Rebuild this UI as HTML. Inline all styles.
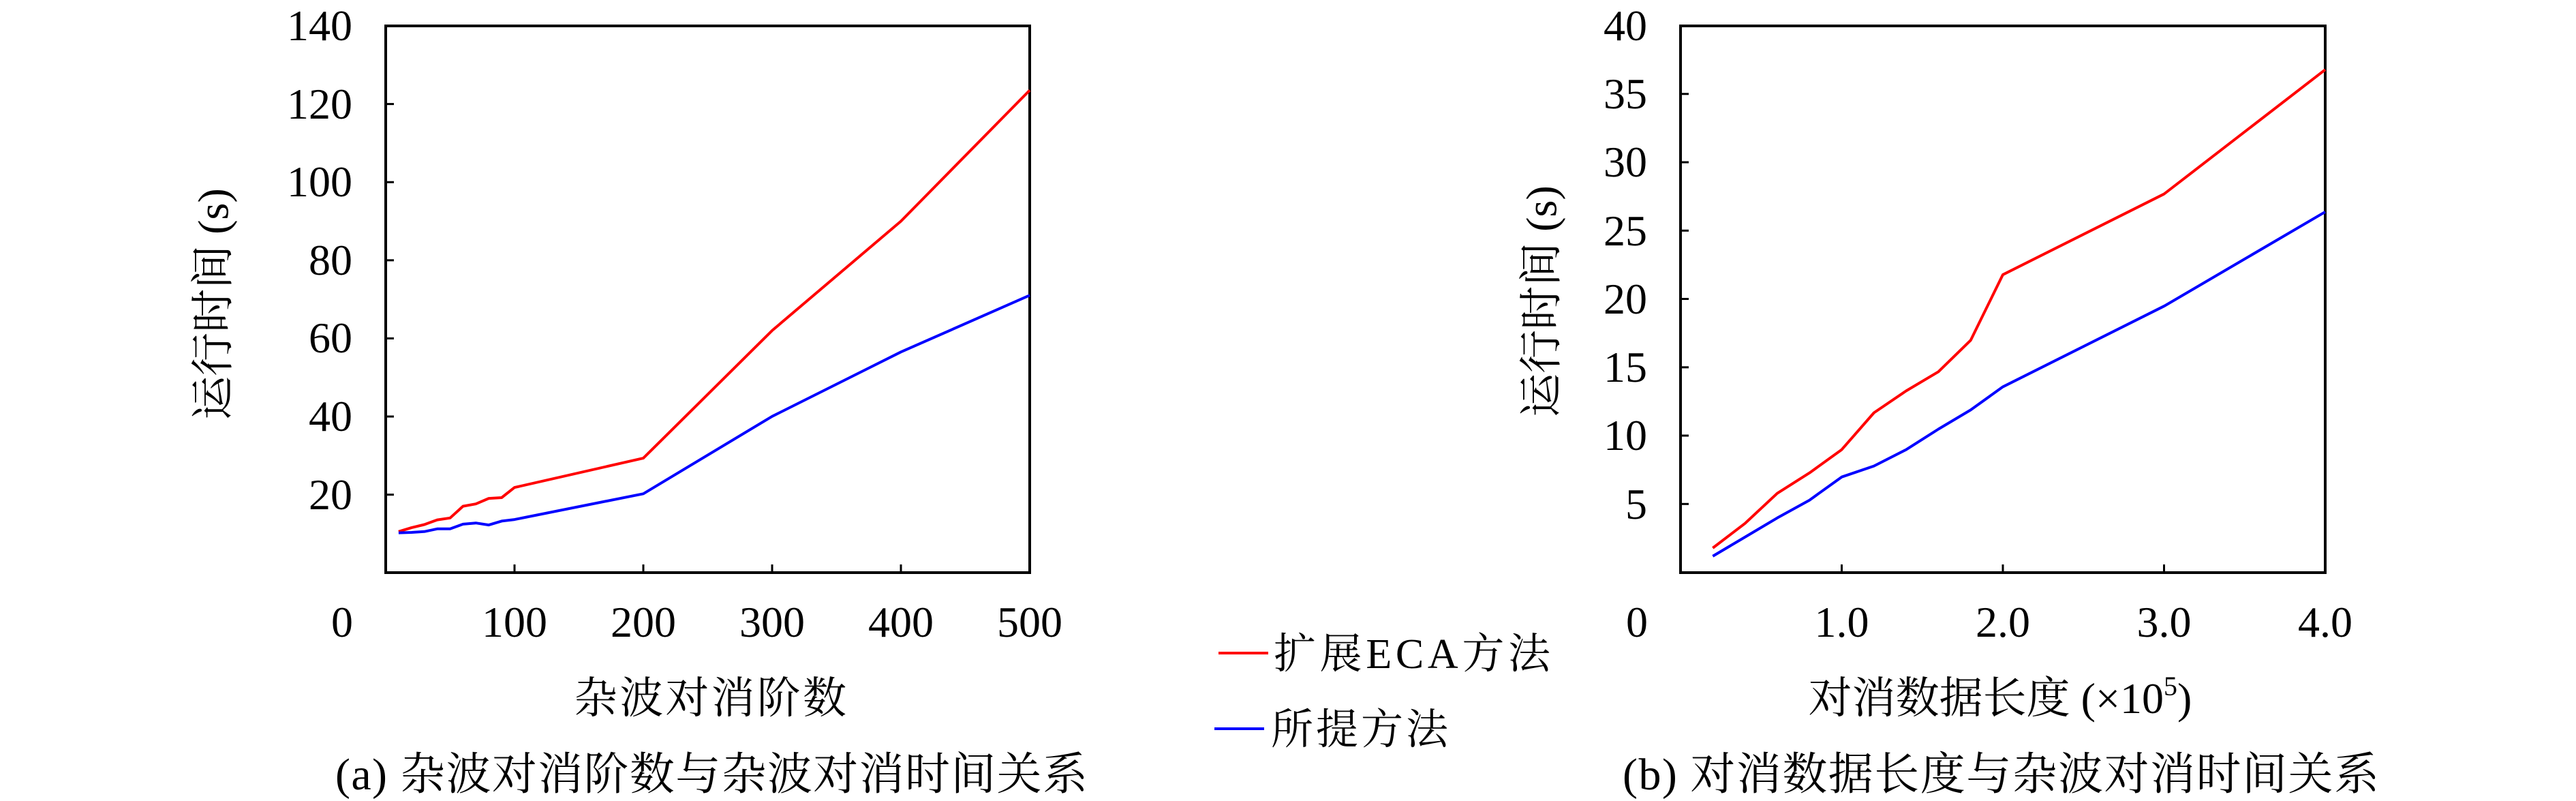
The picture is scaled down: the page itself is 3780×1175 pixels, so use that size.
<!DOCTYPE html>
<html><head><meta charset="utf-8"><style>html,body{margin:0;padding:0;background:#fff}svg{display:block}</style></head>
<body>
<svg width="3780" height="1175" viewBox="0 0 3780 1175" xmlns="http://www.w3.org/2000/svg" font-family="'Liberation Serif','Noto Serif CJK SC',serif">
<rect width="3780" height="1175" fill="#fff"/>
<!-- Plot A -->
<g>
<rect x="566" y="38" width="945" height="802" fill="none" stroke="#000" stroke-width="4"/>
<g stroke="#000" stroke-width="3">
<line x1="566" x2="578" y1="152.6" y2="152.6"/><line x1="566" x2="578" y1="267.2" y2="267.2"/><line x1="566" x2="578" y1="381.8" y2="381.8"/><line x1="566" x2="578" y1="496.4" y2="496.4"/><line x1="566" x2="578" y1="611" y2="611"/><line x1="566" x2="578" y1="725.6" y2="725.6"/>
<line x1="755" x2="755" y1="840" y2="828"/><line x1="944" x2="944" y1="840" y2="828"/><line x1="1133" x2="1133" y1="840" y2="828"/><line x1="1322" x2="1322" y1="840" y2="828"/>
</g>
<g font-size="64" text-anchor="end">
<text x="517" y="59">140</text><text x="517" y="174">120</text><text x="517" y="288">100</text><text x="517" y="403">80</text><text x="517" y="517">60</text><text x="517" y="632">40</text><text x="517" y="747">20</text>
</g>
<g font-size="64" text-anchor="middle">
<text x="502" y="934">0</text><text x="755" y="934">100</text><text x="944" y="934">200</text><text x="1133" y="934">300</text><text x="1322" y="934">400</text><text x="1511" y="934">500</text>
</g>
<polyline fill="none" stroke="#f00" stroke-width="4" stroke-linejoin="round" points="584.9,779.8 603.8,774.1 622.7,769.5 641.6,762.6 660.5,759.8 679.4,742.6 698.3,739.2 717.2,731.1 736.1,730 755,715.1 944,672.1 1133,484.9 1322,324.5 1511,132.4"/>
<polyline fill="none" stroke="#00f" stroke-width="4" stroke-linejoin="round" points="584.9,781.6 603.8,781 622.7,779.8 641.6,775.8 660.5,775.8 679.4,768.9 698.3,767.2 717.2,770.1 736.1,764.4 755,762.1 944,724.3 1133,610.8 1322,516.3 1511,433.2"/>
<text x="313" y="446" font-size="64" text-anchor="middle" dominant-baseline="central" transform="rotate(-90 313 446)">运行时间 (s)</text>
<text x="1042" y="1046" font-size="64" text-anchor="middle" textLength="400">杂波对消阶数</text>
<text x="1044" y="1158" font-size="66" text-anchor="middle" textLength="1104">(a) 杂波对消阶数与杂波对消时间关系</text>
</g>
<!-- Legend -->
<line x1="1788" x2="1861" y1="958" y2="958" stroke="#f00" stroke-width="4"/>
<text x="1869" y="980" font-size="62" textLength="406">扩展ECA方法</text>
<line x1="1782" x2="1855" y1="1069" y2="1069" stroke="#00f" stroke-width="4"/>
<text x="1865" y="1091" font-size="62" textLength="260">所提方法</text>
<!-- Plot B -->
<g>
<rect x="2466" y="38" width="946" height="802" fill="none" stroke="#000" stroke-width="4"/>
<g stroke="#000" stroke-width="3">
<line x1="2466" x2="2478" y1="137.8" y2="137.8"/><line x1="2466" x2="2478" y1="238" y2="238"/><line x1="2466" x2="2478" y1="338.3" y2="338.3"/><line x1="2466" x2="2478" y1="438.5" y2="438.5"/><line x1="2466" x2="2478" y1="538.8" y2="538.8"/><line x1="2466" x2="2478" y1="639" y2="639"/><line x1="2466" x2="2478" y1="739.3" y2="739.3"/>
<line x1="2702.5" x2="2702.5" y1="840" y2="828"/><line x1="2939" x2="2939" y1="840" y2="828"/><line x1="3175.5" x2="3175.5" y1="840" y2="828"/>
</g>
<g font-size="64" text-anchor="end">
<text x="2417" y="59">40</text><text x="2417" y="159">35</text><text x="2417" y="259">30</text><text x="2417" y="360">25</text><text x="2417" y="460">20</text><text x="2417" y="560">15</text><text x="2417" y="660">10</text><text x="2417" y="761">5</text>
</g>
<g font-size="64" text-anchor="middle">
<text x="2402" y="934">0</text><text x="2702.5" y="934">1.0</text><text x="2939" y="934">2.0</text><text x="3175.5" y="934">3.0</text><text x="3412" y="934">4.0</text>
</g>
<polyline fill="none" stroke="#f00" stroke-width="4" stroke-linejoin="round" points="2513.3,803.9 2560.6,767.8 2607.9,723.7 2655.2,693.7 2702.5,659.6 2749.8,605.5 2797.1,573.4 2844.4,545.3 2891.7,499.2 2939,402.9 3175.5,284.6 3412,102.2"/>
<polyline fill="none" stroke="#00f" stroke-width="4" stroke-linejoin="round" points="2513.3,815.9 2560.6,787.9 2607.9,759.8 2655.2,733.7 2702.5,699.7 2749.8,683.6 2797.1,659.6 2844.4,629.5 2891.7,601.4 2939,567.4 3175.5,449.1 3412,310.8"/>
<text x="2262" y="442" font-size="64" text-anchor="middle" dominant-baseline="central" transform="rotate(-90 2262 442)">运行时间 (s)</text>
<text x="2935" y="1046" font-size="64" text-anchor="middle">对消数据长度 (×10<tspan font-size="40" dy="-26">5</tspan><tspan dy="26">)</tspan></text>
<text x="2936" y="1158" font-size="66" text-anchor="middle" textLength="1110">(b) 对消数据长度与杂波对消时间关系</text>
</g>
</svg>
</body></html>
